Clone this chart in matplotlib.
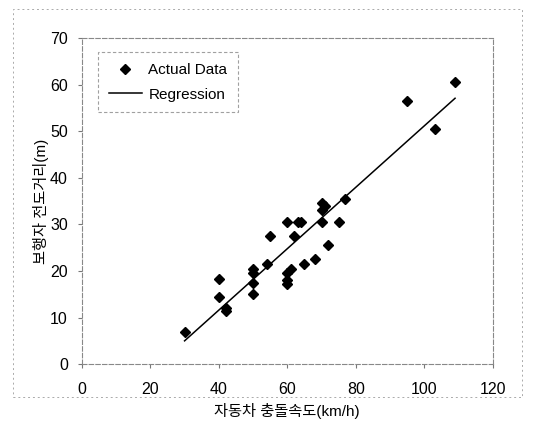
import matplotlib.pyplot as plt
from matplotlib.patches import Rectangle

plt.rcParams['font.family'] = ['Liberation Sans', 'Noto Sans CJK KR', 'DejaVu Sans']

# collision speed (km/h) vs pedestrian throw distance (m)
speed = [30, 40, 40, 42, 42, 50, 50, 50, 50, 54, 55, 60, 60, 60, 60, 61, 62,
         63, 64, 65, 68, 70, 71, 70, 70, 72, 75, 77, 95, 103, 109]
distance = [7, 18.3, 14.5, 12, 11.5, 20.5, 19.5, 17.5, 15, 21.5, 27.5, 30.5,
            19.5, 18, 17.3, 20.5, 27.5, 30.5, 30.5, 21.5, 22.5, 34.5, 34, 33,
            30.5, 25.5, 30.5, 35.5, 56.5, 50.5, 60.5]

# regression line end points
reg_x = [30, 109]
reg_y = [5.0, 57.1]

x_ticks = [0, 20, 40, 60, 80, 100, 120]
y_ticks = [0, 10, 20, 30, 40, 50, 60, 70]

fig = plt.figure(figsize=(5.53, 4.34), dpi=100)
ax = fig.add_axes([0.148, 0.161, 0.743, 0.751])

# outer chart frame (scanned, faint dashed)
fig.patches.append(Rectangle((0.024, 0.085), 0.92, 0.895, transform=fig.transFigure,
                             fill=False, ec='#aaaaaa', lw=0.7, ls=(0, (2, 3))))

ax.plot(speed, distance, 'D', color='black', ms=5, ls='none', label='Actual Data')
ax.plot(reg_x, reg_y, '-', color='black', lw=1.1, label='Regression')

ax.set_xlim(0, 120)
ax.set_ylim(0, 70)
ax.set_xticks(x_ticks)
ax.set_yticks(y_ticks)
ax.tick_params(axis='both', labelsize=11.5, length=3, color='#777777')
ax.tick_params(axis='x', pad=10)
ax.tick_params(axis='y', pad=7)

for s in ax.spines.values():
    s.set_color('#888888')
    s.set_linewidth(0.8)
    s.set_linestyle((0, (4, 2)))

ax.set_xlabel('자동차 충돌속도(km/h)', fontsize=11)
ax.set_ylabel('보행자 전도거리(m)', fontsize=11, labelpad=1)

leg = ax.legend(loc='upper left', bbox_to_anchor=(0.039, 0.957), fontsize=11,
                frameon=True, fancybox=False, borderpad=0.7, handlelength=2.2,
                handletextpad=0.4, labelspacing=0.7, borderaxespad=0)
leg.get_frame().set_edgecolor('#888888')
leg.get_frame().set_linestyle((0, (3, 2)))
leg.get_frame().set_linewidth(0.8)

fig.savefig('out.png', dpi=100)
